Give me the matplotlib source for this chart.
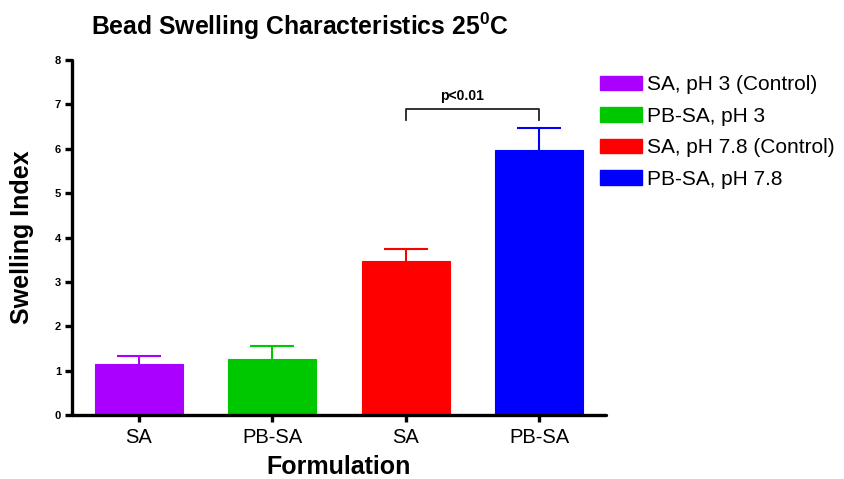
import matplotlib
matplotlib.use("Agg")
import matplotlib.pyplot as plt
from matplotlib.patches import Patch

plt.rcParams['font.family'] = ['Liberation Sans', 'DejaVu Sans']
plt.rcParams['mathtext.fontset'] = 'custom'
plt.rcParams['mathtext.rm'] = 'Liberation Sans'
plt.rcParams['mathtext.bf'] = 'Liberation Sans:bold'

categories = ["SA", "PB-SA", "SA", "PB-SA"]
legend_labels = ["SA, pH 3 (Control)", "PB-SA, pH 3", "SA, pH 7.8 (Control)", "PB-SA, pH 7.8"]
values = [1.14, 1.26, 3.48, 5.98]
errors = [0.20, 0.30, 0.27, 0.48]
colors = ["#AA00FF", "#00C800", "#FF0000", "#0000FF"]
y_ticks = [0, 1, 2, 3, 4, 5, 6, 7, 8]
sig_label = "p<0.01"
sig_pair = (2, 3)
sig_y = 6.9
sig_drop = 0.25

fig = plt.figure(figsize=(8.45, 4.79), dpi=100)
ax = fig.add_axes([0.0852, 0.1336, 0.632, 0.741])

x = list(range(len(values)))
ax.bar(x, values, width=0.66, color=colors, edgecolor=colors, linewidth=0.8, zorder=2)
cap_half = 0.165
for xi, v, e, c in zip(x, values, errors, colors):
    ax.vlines(xi, v, v + e, color=c, lw=1.5, zorder=3)
    ax.hlines(v + e, xi - cap_half, xi + cap_half, color=c, lw=1.5, zorder=3)

ax.set_xlim(-0.5, 3.5)
ax.set_ylim(0, 8)
ax.set_yticks(y_ticks)
ax.set_yticklabels([str(t) for t in y_ticks], fontsize=8, fontweight='bold')
ax.set_xticks(x)
ax.set_xticklabels(categories, fontsize=14.5)
for s in ['top', 'right']:
    ax.spines[s].set_visible(False)
for s in ['left', 'bottom']:
    ax.spines[s].set_linewidth(2.4)
    ax.spines[s].set_capstyle('round')
ax.tick_params(axis='both', width=2.4, length=5, direction='out')
ax.tick_params(axis='y', pad=3)
ax.tick_params(axis='x', pad=4)

ax.set_ylabel("Swelling Index", fontsize=18, fontweight='bold', labelpad=15)
ax.set_xlabel("Formulation", fontsize=18, fontweight='bold', labelpad=6)

fig.text(0.355, 0.945, r"Bead Swelling Characteristics 25$^{\mathbf{0}}$C",
         fontsize=17.8, fontweight='bold', ha='center', va='center')

# significance bracket
x0, x1 = sig_pair
ax.plot([x0, x0, x1, x1], [sig_y - sig_drop, sig_y, sig_y, sig_y - sig_drop],
        color='#222222', lw=1.3, zorder=3)
ax.text(x0 + 0.42, sig_y + 0.28, sig_label, ha='center', va='center',
        fontsize=10, fontweight='bold')

handles = [Patch(facecolor=c, edgecolor=c) for c in colors]
fig.legend(handles, legend_labels, loc='upper left', bbox_to_anchor=(0.688, 0.882),
           frameon=False, fontsize=15, handlelength=2.0, handleheight=0.7,
           handletextpad=0.25, labelspacing=0.6)

fig.savefig("out.png", dpi=100)
